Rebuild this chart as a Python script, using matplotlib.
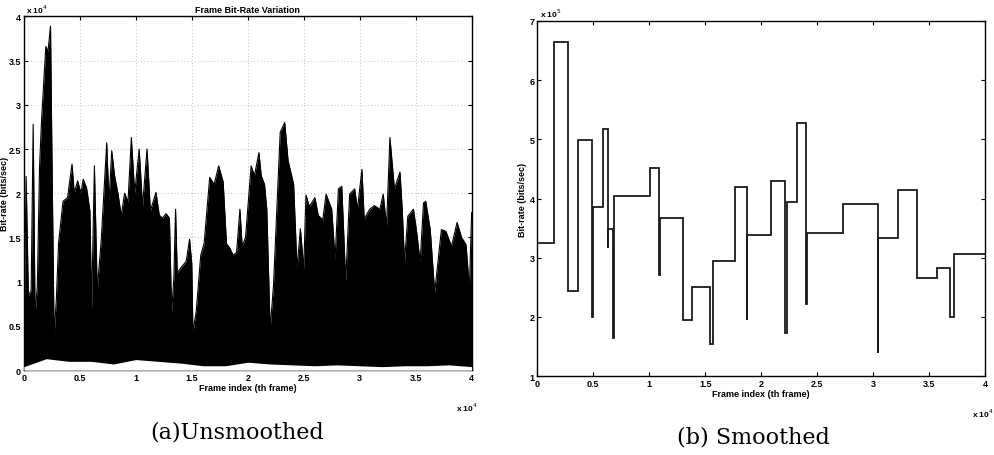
import numpy as np
import matplotlib
matplotlib.use("Agg")
import matplotlib.pyplot as plt
from matplotlib.ticker import FuncFormatter

# ---- (a) unsmoothed: upper envelope of the frame bit-rate trace (frame, bits/sec)
raw_frame = np.array([
    0.005, 0.02, 0.04, 0.065, 0.083, 0.10, 0.12, 0.14, 0.158, 0.18, 0.196, 0.215,
    0.238, 0.25, 0.27, 0.29, 0.31, 0.35, 0.39, 0.43, 0.45, 0.48, 0.51, 0.53,
    0.56, 0.59, 0.605, 0.63, 0.655, 0.69, 0.74, 0.76, 0.785, 0.81, 0.84, 0.87,
    0.90, 0.93, 0.96, 0.99, 1.03, 1.06, 1.10, 1.13, 1.18, 1.21, 1.24, 1.27,
    1.30, 1.32, 1.34, 1.355, 1.37, 1.41, 1.45, 1.48, 1.50, 1.51, 1.54, 1.58,
    1.61, 1.66, 1.70, 1.74, 1.78, 1.81, 1.84, 1.87, 1.90, 1.93, 1.95, 1.98,
    2.03, 2.06, 2.10, 2.12, 2.15, 2.17, 2.20, 2.23, 2.29, 2.33, 2.36, 2.41,
    2.44, 2.47, 2.50, 2.52, 2.55, 2.60, 2.63, 2.67, 2.70, 2.75, 2.78, 2.81,
    2.84, 2.875, 2.91, 2.955, 2.98, 3.02, 3.04, 3.09, 3.13, 3.18, 3.21, 3.24,
    3.27, 3.31, 3.36, 3.38, 3.40, 3.43, 3.48, 3.51, 3.54, 3.57, 3.59, 3.63,
    3.67, 3.73, 3.77, 3.82, 3.87, 3.91, 3.95, 3.98, 4.0]) * 1e4
raw_rate = np.array([
    0.80, 2.19, 0.84, 0.90, 2.78, 0.62, 0.95, 2.30, 2.83, 3.30, 3.66, 3.60,
    3.89, 2.50, 0.39, 0.80, 1.44, 1.91, 1.95, 2.33, 2.00, 2.14, 2.00, 2.16,
    2.06, 1.80, 0.69, 2.31, 0.90, 1.45, 2.57, 1.90, 2.48, 2.20, 2.00, 1.75,
    2.00, 1.90, 2.63, 2.00, 2.50, 1.85, 2.50, 1.80, 2.01, 1.75, 1.72, 1.77,
    1.72, 0.65, 1.05, 1.82, 1.10, 1.17, 1.23, 1.48, 1.20, 0.43, 0.67, 1.30,
    1.43, 2.18, 2.10, 2.31, 2.13, 1.43, 1.38, 1.30, 1.33, 1.82, 1.40, 1.50,
    2.31, 2.20, 2.46, 2.20, 2.10, 1.82, 0.46, 0.96, 2.69, 2.80, 2.37, 2.10,
    1.15, 1.60, 1.15, 1.98, 1.85, 1.95, 1.75, 1.70, 1.99, 1.82, 1.25, 2.05,
    2.08, 1.00, 1.99, 2.05, 1.82, 2.27, 1.71, 1.82, 1.86, 1.82, 1.99, 1.63,
    2.63, 2.05, 2.24, 1.82, 1.22, 1.74, 1.82, 1.55, 1.22, 1.89, 1.91, 1.59,
    0.88, 1.59, 1.57, 1.40, 1.67, 1.50, 1.42, 0.92, 1.78]) * 1e4
# lower edge of the trace
floor_frame = np.arange(0, 4.01, 0.2) * 1e4
floor_rate = np.array([
    0.04, 0.13, 0.10, 0.10, 0.07, 0.12, 0.10, 0.08, 0.05, 0.05, 0.09,
    0.07, 0.06, 0.05, 0.06, 0.05, 0.04, 0.05, 0.05, 0.06, 0.04]) * 1e4

# ---- (b) smoothed: piecewise constant rate
seg_edges = np.array([
    0, 1500, 2700, 3600, 4900, 4950, 5900, 6300, 6350, 6800, 6850, 10100,
    10900, 10950, 13000, 13800, 15400, 15700, 17700, 18700, 18750, 20900,
    22100, 22300, 23200, 24000, 24050, 27300, 30400, 30450, 32200, 33900,
    35700, 36900, 37200, 40000])
seg_rate = np.array([
    3.25, 6.65, 2.43, 4.98, 2.00, 3.85, 5.17, 3.17, 3.48, 1.65, 4.05, 4.52,
    2.70, 3.67, 1.94, 2.51, 1.55, 2.95, 4.20, 1.94, 3.38, 4.30, 1.72, 3.94,
    5.27, 2.21, 3.42, 3.90, 1.39, 3.34, 4.15, 2.66, 2.82, 2.00, 3.07]) * 1e5

lab_font = dict(family="Liberation Sans", size=6.5, weight="bold")


def style_axes(ax, scale_y):
    ax.tick_params(direction="in", top=True, right=True, length=3, width=0.8,
                   pad=2, labelsize=6.5)
    for lab in ax.get_xticklabels() + ax.get_yticklabels():
        lab.set_fontfamily("Liberation Sans")
        lab.set_fontweight("bold")
    for sp in ax.spines.values():
        sp.set_linewidth(1.0)
    ax.xaxis.set_major_formatter(FuncFormatter(lambda v, p: "%g" % (v / 1e4)))
    ax.yaxis.set_major_formatter(FuncFormatter(lambda v, p: "%g" % (v / scale_y)))


fig = plt.figure(figsize=(9.95, 4.56), dpi=100)

# (a)
ax1 = fig.add_axes([0.024, 0.186, 0.450, 0.776])
ax1.fill_between(raw_frame, 0, raw_rate, color="black", lw=0, zorder=2)
ax1.plot(raw_frame, raw_rate, color="black", lw=0.8, zorder=2)
ax1.fill_between(floor_frame, 0, floor_rate, color="white", lw=0, zorder=3)
ax1.set_xlim(0, 4e4)
ax1.set_ylim(0, 4e4)
ax1.set_xticks(np.arange(0, 40001, 5000))
ax1.set_yticks(np.arange(0, 40001, 5000))
ax1.grid(True, ls=(0, (1, 3)), color="#aaaaaa", lw=0.6)
ax1.set_axisbelow(True)
style_axes(ax1, 1e4)
ax1.set_title("Frame Bit-Rate Variation", fontdict=lab_font, pad=3)
ax1.set_xlabel("Frame index (th frame)", fontdict=lab_font, labelpad=1)
ax1.set_ylabel("Bit-rate (bits/sec)", fontdict=lab_font, labelpad=0)
ax1.text(0.005, 1.005, r"x 10$^4$", transform=ax1.transAxes, fontsize=6,
         fontweight="bold", family="Liberation Sans", va="bottom")
ax1.text(0.965, -0.085, r"x 10$^4$", transform=ax1.transAxes, fontsize=6,
         fontweight="bold", family="Liberation Sans", va="top")

# (b)
ax2 = fig.add_axes([0.540, 0.173, 0.450, 0.779])
ax2.stairs(seg_rate, seg_edges, color="#1a1a1a", lw=1.3, baseline=None)
ax2.set_xlim(0, 4e4)
ax2.set_ylim(1e5, 7e5)
ax2.set_xticks(np.arange(0, 40001, 5000))
ax2.set_yticks(np.arange(1e5, 7.01e5, 1e5))
style_axes(ax2, 1e5)
ax2.set_xlabel("Frame index (th frame)", fontdict=lab_font, labelpad=1)
ax2.set_ylabel("Bit-rate (bits/sec)", fontdict=lab_font, labelpad=2)
ax2.text(0.005, 1.005, r"x 10$^5$", transform=ax2.transAxes, fontsize=6,
         fontweight="bold", family="Liberation Sans", va="bottom")
ax2.text(0.97, -0.085, r"x 10$^4$", transform=ax2.transAxes, fontsize=6,
         fontweight="bold", family="Liberation Sans", va="top")

# captions
fig.text(0.238, 0.052, "(a)Unsmoothed", ha="center", va="center",
         family="DejaVu Serif", fontsize=16)
fig.text(0.757, 0.040, "(b) Smoothed", ha="center", va="center",
         family="DejaVu Serif", fontsize=16)

fig.savefig("out.png", dpi=100)
